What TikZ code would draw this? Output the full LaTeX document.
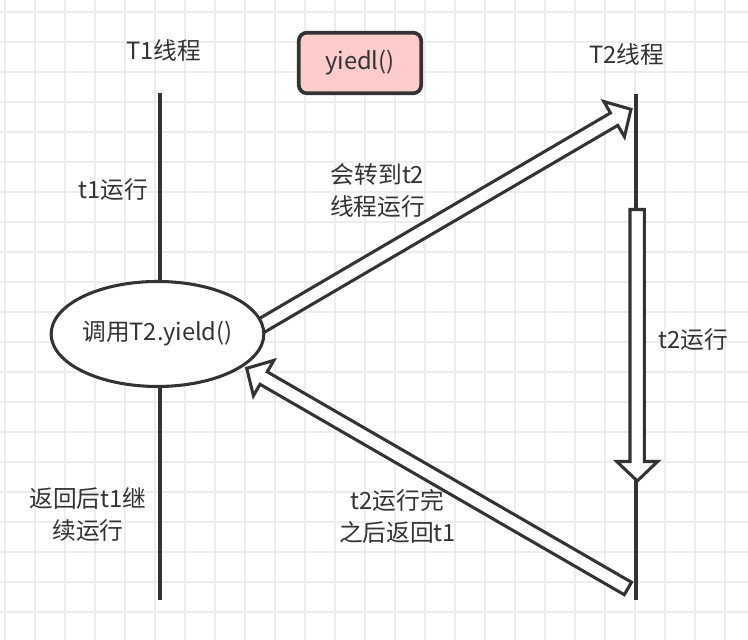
\documentclass[tikz,border=0pt]{standalone}
\usepackage{fontspec}
\setmainfont{Noto Sans CJK SC}
\usetikzlibrary{calc,shapes.geometric}

\definecolor{inkgray}{HTML}{333333}
\definecolor{gridgray}{HTML}{EDEDED}
\definecolor{boxpink}{HTML}{FFCCCC}

\tikzset{
  gridline/.style={draw=gridgray, line width=1.4pt},
  threadline/.style={draw=inkgray, line width=3.6pt},
  fatarrowbox/.style={draw=inkgray, fill=white, line width=2.9pt, line join=miter},
  txt/.style={text=inkgray, align=center, font=\fontsize{22.5}{31}\selectfont},
  callnode/.style={txt, ellipse, draw=inkgray, fill=white, line width=2.9pt,
    minimum width=6.85cm, minimum height=3.5cm, inner sep=0pt},
  yieldbox/.style={txt, rectangle, rounded corners=0.27cm, draw=inkgray, fill=boxpink,
    line width=3.5pt, minimum width=4.08cm, minimum height=2.02cm}
}

%sizes of the hollow arrows
\newcommand{\fatshaft}{0.24cm}
\newcommand{\fatwing}{0.68cm}
\newcommand{\fathead}{0.65cm}

%hollow arrow from #1 (tail) to #2 (tip)
\newcommand{\fatarrow}[2]{%
  \path let \p1=($(#2)-(#1)$) in
    \pgfextra{\pgfmathsetmacro{\arrang}{atan2(\y1,\x1)}%
      \pgfmathsetmacro{\arrlen}{veclen(\x1,\y1)}%
      \xdef\fatang{\arrang}\xdef\fatlen{\arrlen}};
  \draw[fatarrowbox, shift={(#1)}, rotate=\fatang]
    (0,-\fatshaft) -- (\fatlen pt-\fathead,-\fatshaft) -- (\fatlen pt-\fathead,-\fatwing)
    -- (\fatlen pt,0) -- (\fatlen pt-\fathead,\fatwing) -- (\fatlen pt-\fathead,\fatshaft)
    -- (0,\fatshaft) -- cycle;
}

\begin{document}
\begin{tikzpicture}
\useasboundingbox (0,0) rectangle (24.933,21.333);
\fill[white] (0,0) rectangle (24.933,21.333);

%draw grid
\foreach \x in {0,...,24}
\draw[gridline] (\x+0.1667,0) -- (\x+0.1667,21.333);
\foreach \y in {0,...,20}
\draw[gridline] (0,\y+0.9333) -- (24.933,\y+0.9333);

%thread lines
\coordinate (t1top) at (5.333,18.233);
\coordinate (t1bot) at (5.333,1.333);
\coordinate (t2top) at (21.2,18.2);
\coordinate (t2bot) at (21.2,1.333);
\draw[threadline] (t1top) -- (t1bot);
\draw[threadline] (t2top) -- (t2bot);

%arrow ends
\coordinate (gostart) at (8.467,10.333);
\coordinate (goend) at (21.033,17.69);
\coordinate (runstart) at (21.24,14.35);
\coordinate (runend) at (21.24,5.3);
\coordinate (backstart) at (20.93,1.717);
\coordinate (backend) at (8.223,9.057);

%draw hollow arrows
\fatarrow{gostart}{goend}
\fatarrow{runstart}{runend}
\fatarrow{backstart}{backend}

%nodes
\node[callnode] (call) at (5.25,10.2) {调用T2.yield()};
\node[yieldbox] (yield) at (12,19.233) {yiedl()};

\node[txt] (t1name) at (5.45,19.667) {T1线程};
\node[txt] (t2name) at (20.9,19.533) {T2线程};
\node[txt] (t1run) at (3.767,15.0) {t1运行};
\node[txt] (goto) at (12.583,14.983) {会转到t2\\线程运行};
\node[txt] (t2run) at (23.117,10.0) {t2运行};
\node[txt] (t1back) at (2.933,4.183) {返回后t1继\\续运行};
\node[txt] (t2done) at (13.25,4.117) {t2运行完\\之后返回t1};
\end{tikzpicture}
\end{document}
